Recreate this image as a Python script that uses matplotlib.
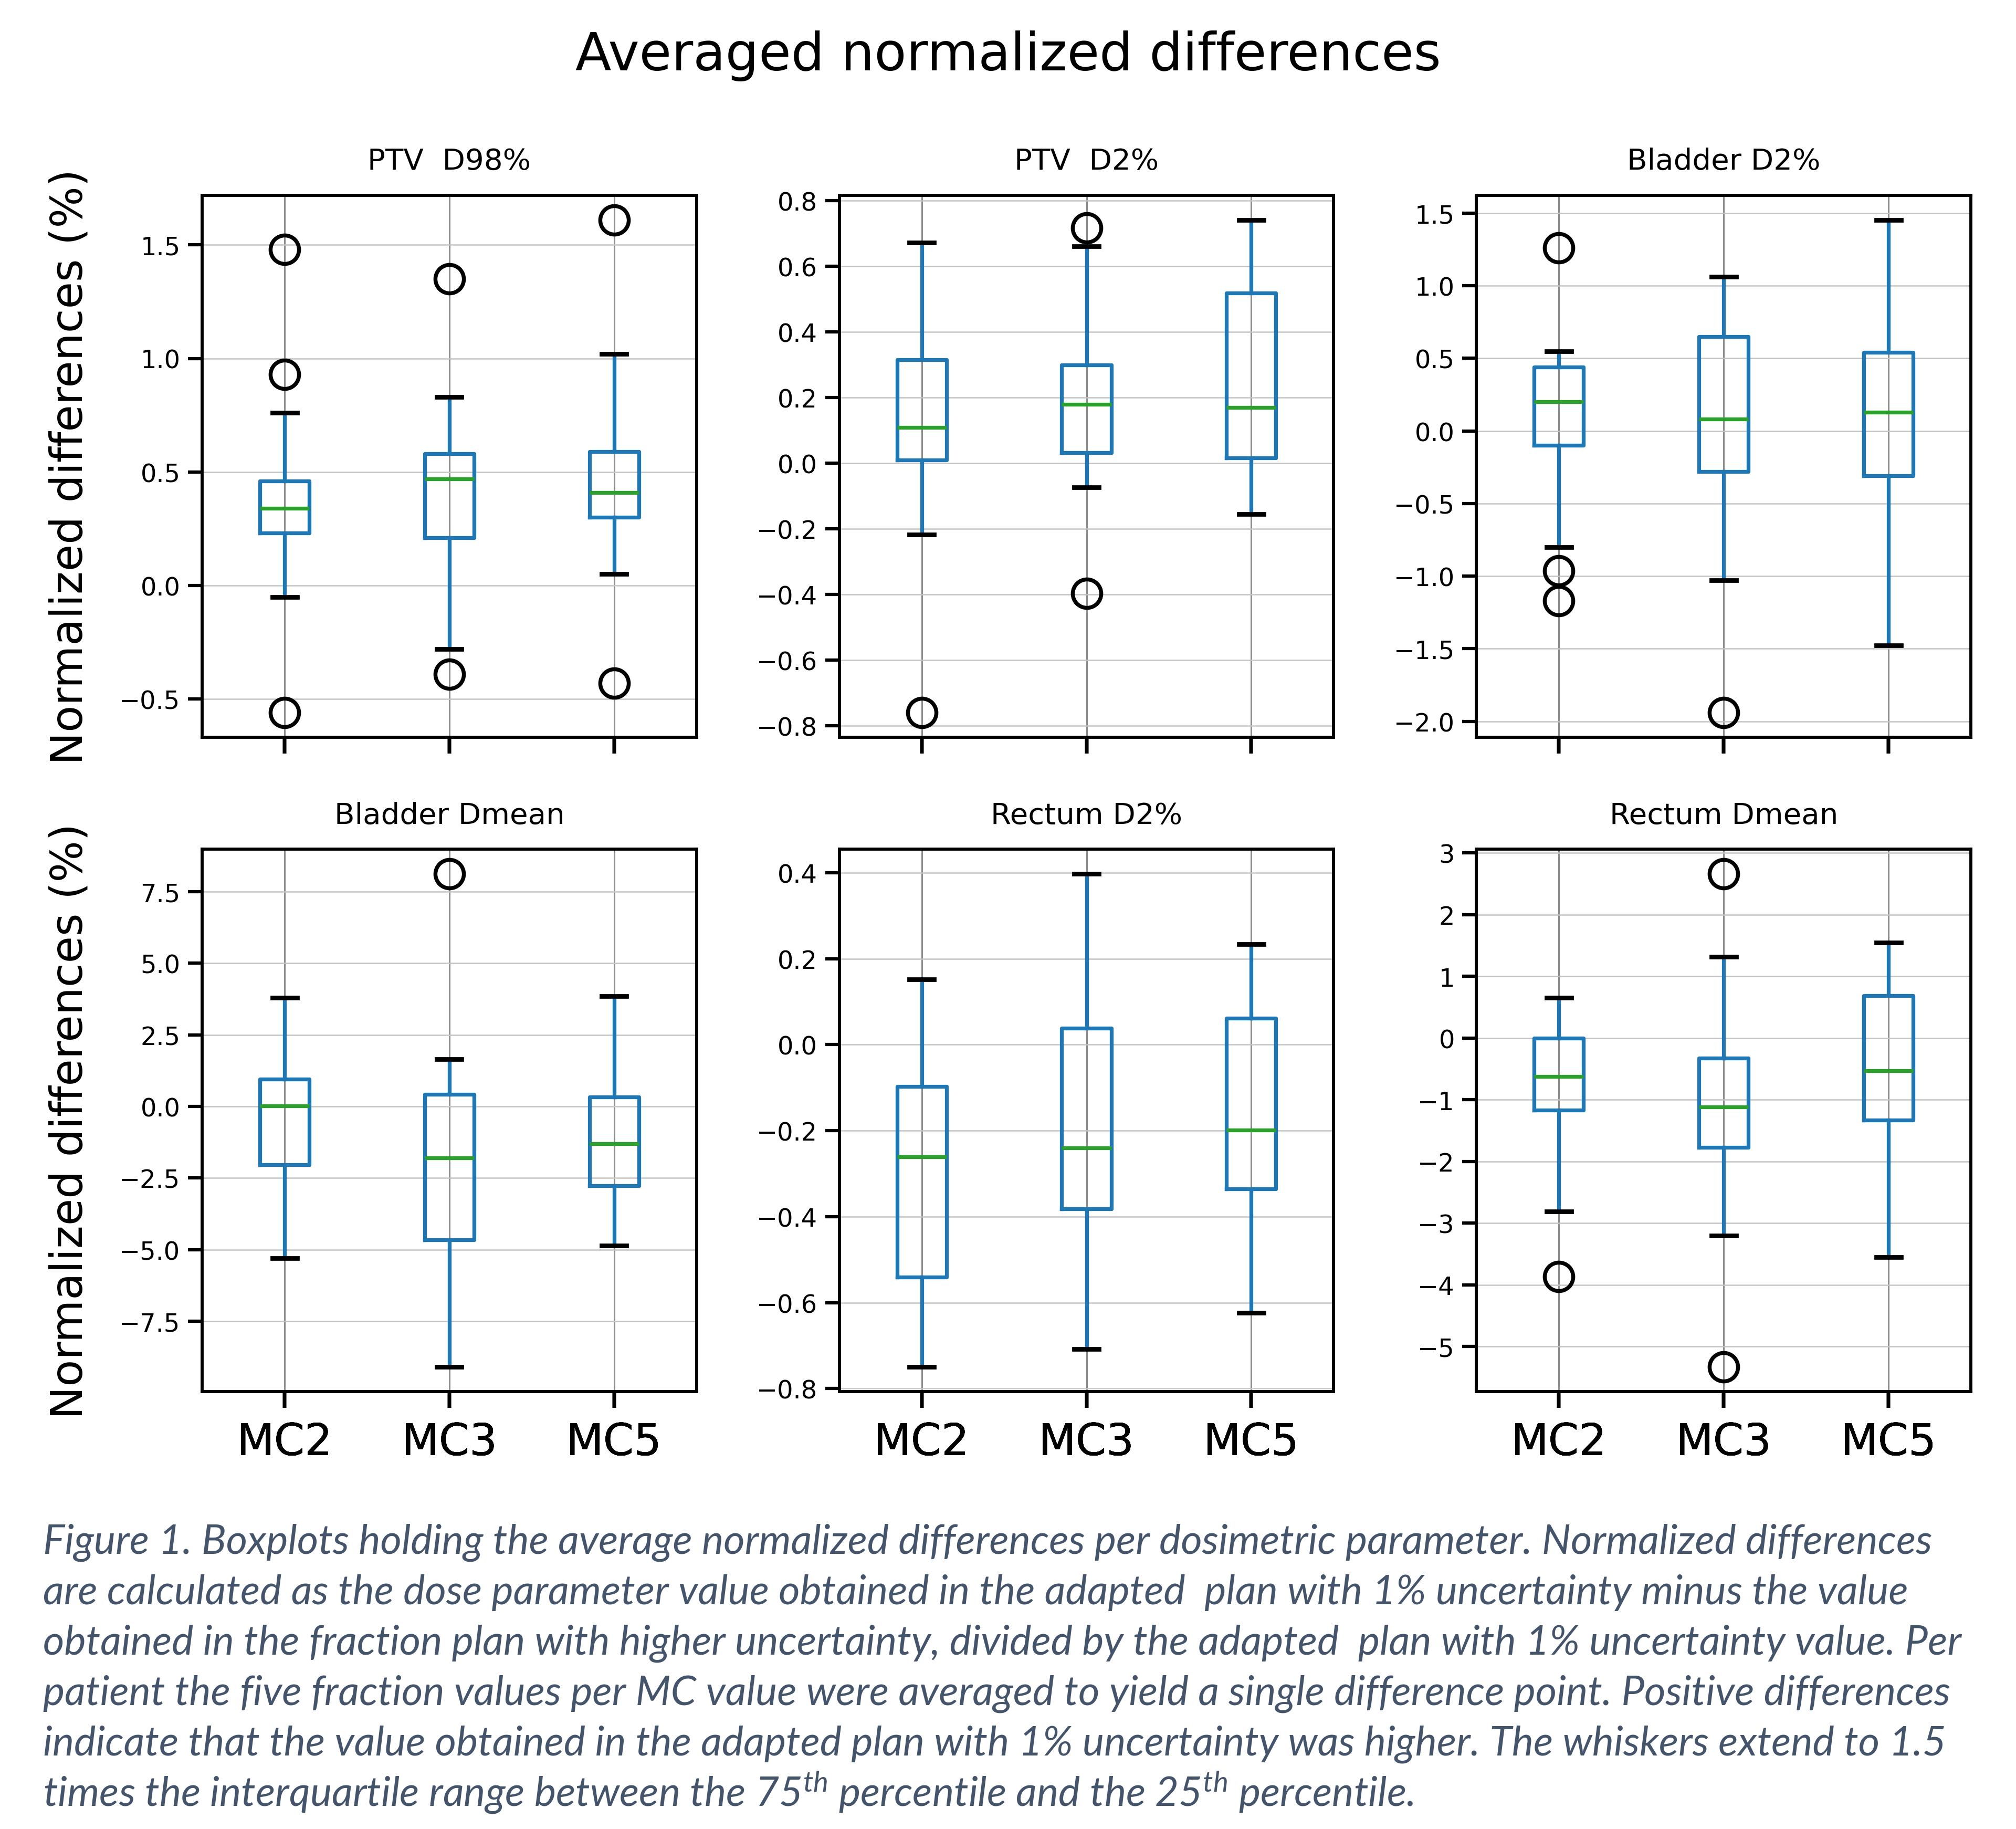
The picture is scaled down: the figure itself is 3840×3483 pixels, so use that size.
import matplotlib
matplotlib.use("Agg")
import matplotlib.pyplot as plt

# panel titles and groups
titles = ["PTV  D98%", "PTV  D2%", "Bladder D2%",
          "Bladder Dmean", "Rectum D2%", "Rectum Dmean"]
mc_labels = ["MC2", "MC3", "MC5"]

# box statistics (one row per panel, MC2/MC3/MC5)
medians = [[0.34, 0.47, 0.41],
           [0.11, 0.18, 0.17],
           [0.20, 0.08, 0.13],
           [0.02, -1.80, -1.30],
           [-0.261, -0.240, -0.198],
           [-0.62, -1.12, -0.53]]
q1 = [[0.23, 0.21, 0.30],
      [0.010, 0.032, 0.016],
      [-0.10, -0.28, -0.31],
      [-2.04, -4.66, -2.77],
      [-0.541, -0.382, -0.335],
      [-1.17, -1.77, -1.33]]
q3 = [[0.46, 0.58, 0.59],
      [0.315, 0.30, 0.519],
      [0.44, 0.65, 0.54],
      [0.96, 0.43, 0.33],
      [-0.097, 0.038, 0.062],
      [0.0, -0.33, 0.69]]
whis_lo = [[-0.05, -0.28, 0.05],
           [-0.217, -0.073, -0.155],
           [-0.80, -1.03, -1.475],
           [-5.29, -9.09, -4.85],
           [-0.749, -0.708, -0.624],
           [-2.81, -3.20, -3.55]]
whis_hi = [[0.76, 0.83, 1.02],
           [0.672, 0.661, 0.742],
           [0.547, 1.06, 1.453],
           [3.79, 1.66, 3.86],
           [0.152, 0.397, 0.234],
           [0.65, 1.32, 1.55]]
fliers = [[[1.48, 0.93, -0.56], [1.35, -0.39], [1.61, -0.43]],
          [[-0.76], [0.717, -0.396], []],
          [[1.26, -0.964, -1.169], [-1.94], []],
          [[], [8.12], []],
          [[], [], []],
          [[-3.87], [2.66, -5.33], []]]

caption_lines = [
    "Figure 1. Boxplots holding the average normalized differences per dosimetric parameter. Normalized differences",
    "are calculated as the dose parameter value obtained in the adapted  plan with 1% uncertainty minus the value",
    "obtained in the fraction plan with higher uncertainty, divided by the adapted  plan with 1% uncertainty value. Per",
    "patient the five fraction values per MC value were averaged to yield a single difference point. Positive differences",
    "indicate that the value obtained in the adapted plan with 1% uncertainty was higher. The whiskers extend to 1.5",
    "times the interquartile range between the 75$^{th}$ percentile and the 25$^{th}$ percentile.",
]

plt.rcParams["mathtext.fontset"] = "custom"
plt.rcParams["mathtext.rm"] = "Lato:italic"
plt.rcParams["mathtext.it"] = "Lato:italic"

blue = "#1f77b4"
fig, axes = plt.subplots(2, 3, figsize=(12.8, 11.6133), dpi=300, sharex=True)
fig.subplots_adjust(left=0.1003, right=0.9776, top=0.893, bottom=0.2392,
                    wspace=0.289, hspace=0.2067)

for i, ax in enumerate(axes.flat):
    stats = []
    for j, lab in enumerate(mc_labels):
        stats.append(dict(label=lab, med=medians[i][j], q1=q1[i][j], q3=q3[i][j],
                          whislo=whis_lo[i][j], whishi=whis_hi[i][j],
                          fliers=fliers[i][j]))
    ax.bxp(stats,
           boxprops=dict(color=blue, linewidth=1.75),
           whiskerprops=dict(color=blue, linewidth=1.75),
           capprops=dict(color="k", linewidth=2.1),
           medianprops=dict(color="#2ca02c", linewidth=1.75),
           flierprops=dict(marker="o", markerfacecolor="none", markeredgecolor="k",
                           markersize=13, markeredgewidth=1.8))
    ax.set_title(titles[i], fontsize=13.5, pad=12)
    ax.set_axisbelow(True)
    ax.grid(True, axis="x", color="#8c8c8c", linewidth=0.6)
    ax.grid(True, axis="y", color="#c4c4c4", linewidth=0.6)
    ax.tick_params(labelsize=11.5, length=6.5, width=1.5)
    ax.tick_params(axis="x", labelsize=20, length=7.5, pad=6)
    for sp in ax.spines.values():
        sp.set_linewidth(1.4)

for ax in axes[:, 0]:
    ax.set_ylabel("Normalized differences (%)", fontsize=20, labelpad=13)

fig.text(0.5, 0.9695, "Averaged normalized differences", fontsize=24,
         ha="center", va="center")

# caption, sized so that the first line spans the same width as the reference
renderer = fig.canvas.get_renderer()
base = 18
texts = []
baselines = [2959, 3055, 3151, 3247, 3343, 3439]
for line, b in zip(caption_lines, baselines):
    t = fig.text(82 / 3840, 1 - b / 3484, line, fontsize=base, family="Lato",
                 style="italic", color="#44546A", ha="left", va="baseline")
    texts.append(t)
w = texts[0].get_window_extent(renderer).width
for t in texts:
    t.set_fontsize(base * 3600 / w)

fig.savefig("out.png", dpi=300)
